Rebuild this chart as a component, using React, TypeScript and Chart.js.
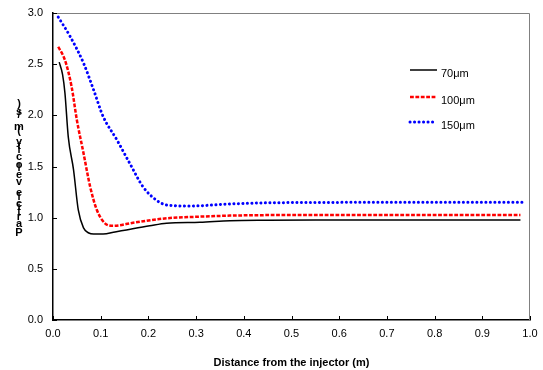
import React, { useEffect, useRef } from "react";
import { Chart, registerables } from "chart.js";

Chart.register(...registerables);

const xTicks = [0, 0.1, 0.2, 0.3, 0.4, 0.5, 0.6, 0.7, 0.8, 0.9, 1.0];
const yTicks = [0, 0.5, 1.0, 1.5, 2.0, 2.5, 3.0];

const seriesLabels = ["70\u03bcm", "100\u03bcm", "150\u03bcm"];

const x70 = [0.013, 0.02, 0.025, 0.032, 0.043, 0.053, 0.064, 0.075, 0.085, 0.105, 0.13, 0.154, 0.203, 0.238, 0.308, 0.371, 0.45, 0.55, 0.65, 0.75, 0.85, 0.98];
const y70 = [2.52, 2.4, 2.22, 1.79, 1.47, 1.075, 0.9, 0.85, 0.84, 0.84, 0.86, 0.88, 0.92, 0.945, 0.955, 0.97, 0.975, 0.978, 0.978, 0.978, 0.978, 0.978];

const x100 = [0.011, 0.025, 0.039, 0.05, 0.064, 0.078, 0.092, 0.109, 0.126, 0.168, 0.238, 0.308, 0.371, 0.45, 0.55, 0.65, 0.75, 0.85, 0.98];
const y100 = [2.67, 2.54, 2.28, 1.955, 1.63, 1.3, 1.075, 0.945, 0.92, 0.95, 0.994, 1.01, 1.02, 1.025, 1.026, 1.027, 1.027, 1.027, 1.027];

const x150 = [0.011, 0.036, 0.064, 0.085, 0.105, 0.134, 0.161, 0.189, 0.217, 0.238, 0.287, 0.371, 0.45, 0.55, 0.65, 0.75, 0.85, 0.99];
const y150 = [2.96, 2.77, 2.51, 2.25, 1.99, 1.76, 1.53, 1.3, 1.17, 1.124, 1.114, 1.134, 1.145, 1.148, 1.15, 1.15, 1.15, 1.15];

const xTitle = "Distance from the injector (m)";
const yTitle = "Particle velocity (m/s)";

const FONT = "'Liberation Sans', Arial, sans-serif";

const styles = [
  { color: "#000000", width: 1.5, dash: [] as number[], cap: "butt" as CanvasLineCap },
  { color: "#ff0000", width: 2.5, dash: [3.8, 1.6], cap: "butt" as CanvasLineCap },
  { color: "#0000ff", width: 3, dash: [0.1, 4.4], cap: "round" as CanvasLineCap },
];

const pts = (xs: number[], ys: number[]) => xs.map((x, i) => ({ x, y: ys[i] }));

export default function App() {
  const ref = useRef<HTMLCanvasElement>(null);
  useEffect(() => {
    document.body.style.margin = "0";
    const canvas = ref.current!;
    const extras = {
      id: "extras",
      afterDraw(chart: any) {
        const ctx = chart.ctx;
        const a = chart.chartArea;
        const xs = chart.scales.x;
        const ys = chart.scales.y;
        ctx.save();
        ctx.strokeStyle = "#808080";
        ctx.lineWidth = 1;
        ctx.beginPath();
        ctx.moveTo(a.left, a.top + 0.5);
        ctx.lineTo(a.right - 0.5, a.top + 0.5);
        ctx.lineTo(a.right - 0.5, a.bottom);
        ctx.stroke();
        ctx.strokeStyle = "#000";
        ctx.beginPath();
        xTicks.forEach((v) => {
          const px = Math.round(xs.getPixelForValue(v)) + 0.5;
          ctx.moveTo(px, a.bottom);
          ctx.lineTo(px, a.bottom - 4);
        });
        yTicks.forEach((v) => {
          const py = Math.round(ys.getPixelForValue(v)) + 0.5;
          ctx.moveTo(a.left, py);
          ctx.lineTo(a.left + 4, py);
        });
        ctx.stroke();
        const lx = 410;
        const ly = [70, 97, 122];
        ctx.font = `11px ${FONT}`;
        ctx.textBaseline = "middle";
        ctx.textAlign = "left";
        seriesLabels.forEach((lab, i) => {
          const s = styles[i];
          ctx.strokeStyle = s.color;
          ctx.lineWidth = s.width;
          ctx.lineCap = s.cap;
          ctx.setLineDash(s.dash);
          ctx.beginPath();
          ctx.moveTo(lx, ly[i]);
          ctx.lineTo(lx + 27, ly[i]);
          ctx.stroke();
          ctx.setLineDash([]);
          ctx.lineCap = "butt";
          ctx.fillStyle = "#000";
          ctx.fillText(lab, lx + 31, ly[i] + 4);
        });
        ctx.font = `bold 11px ${FONT}`;
        ctx.textAlign = "center";
        ctx.textBaseline = "bottom";
        let y = 238;
        for (const ch of yTitle) {
          const w = ctx.measureText(ch).width;
          if (ch !== " ") ctx.fillText(ch, 19, y);
          y -= w * 1.17;
        }
        ctx.restore();
      },
    };
    const chart = new Chart(canvas, {
      type: "line",
      data: {
        datasets: [pts(x70, y70), pts(x100, y100), pts(x150, y150)].map((d, i) => ({
          label: seriesLabels[i],
          data: d,
          borderColor: styles[i].color,
          borderWidth: styles[i].width,
          borderDash: styles[i].dash,
          borderCapStyle: styles[i].cap,
          pointRadius: 0,
          fill: false,
          cubicInterpolationMode: "monotone" as const,
        })),
      },
      options: {
        animation: false,
        responsive: false,
        maintainAspectRatio: false,
        layout: { padding: { top: 13, right: 13, left: 0, bottom: 0 } },
        plugins: { legend: { display: false }, tooltip: { enabled: false } },
        scales: {
          x: {
            type: "linear",
            min: 0,
            max: 1,
            afterBuildTicks: (s: any) => { s.ticks = xTicks.map((v) => ({ value: v })); },
            afterFit: (s: any) => { s.height = 50; s.paddingLeft = 0; s.paddingRight = 0; },
            grid: { drawOnChartArea: false, drawTicks: false },
            border: { color: "#000", width: 1.5 },
            ticks: {
              padding: 7,
              color: "#000",
              font: { family: FONT, size: 11 },
              maxRotation: 0,
              callback: (v: any) => Number(v).toFixed(1),
            },
            title: {
              display: true,
              text: xTitle,
              color: "#000",
              font: { family: FONT, size: 11, weight: "bold" },
              padding: { top: 12, bottom: 0 },
            },
          },
          y: {
            type: "linear",
            min: 0,
            max: 3,
            afterBuildTicks: (s: any) => { s.ticks = yTicks.map((v) => ({ value: v })); },
            afterFit: (s: any) => { s.width = 53; s.paddingTop = 0; s.paddingBottom = 0; },
            grid: { drawOnChartArea: false, drawTicks: false },
            border: { color: "#000", width: 1.5 },
            ticks: {
              padding: 10,
              color: "#000",
              font: { family: FONT, size: 11 },
              callback: (v: any) => Number(v).toFixed(1),
            },
          },
        },
      },
      plugins: [extras],
    });
    return () => chart.destroy();
  }, []);
  return <canvas ref={ref} width={543} height={370} style={{ display: "block", width: 543, height: 370 }} />;
}
